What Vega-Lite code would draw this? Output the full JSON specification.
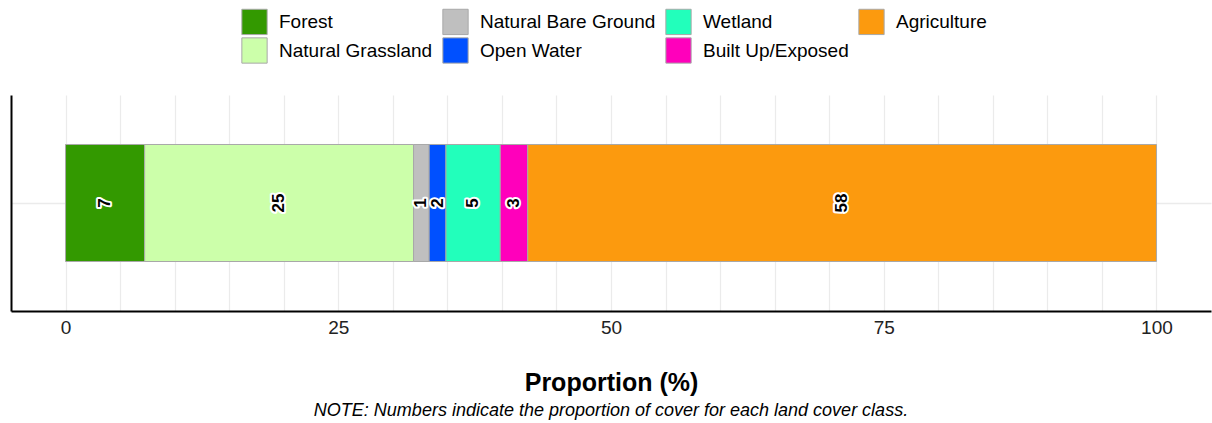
{
  "$schema": "https://vega.github.io/schema/vega-lite/v6.json",
  "width": 1200,
  "height": 216,
  "autosize": {"type": "none"},
  "padding": {"left": 11, "top": 95, "right": 1, "bottom": 112},
  "config": {
    "view": {"stroke": null},
    "font": "Liberation Sans"
  },
  "title": {
    "text": "NOTE: Numbers indicate the proportion of cover for each land cover class.",
    "orient": "bottom",
    "anchor": "middle",
    "fontSize": 18,
    "fontStyle": "italic",
    "fontWeight": "normal",
    "color": "#000000",
    "offset": 7
  },
  "data": {
    "values": [
      {"site": "A", "cls": "Forest", "order": 1, "value": 7.25},
      {"site": "A", "cls": "Natural Grassland", "order": 2, "value": 24.65},
      {"site": "A", "cls": "Natural Bare Ground", "order": 3, "value": 1.43},
      {"site": "A", "cls": "Open Water", "order": 4, "value": 1.54},
      {"site": "A", "cls": "Wetland", "order": 5, "value": 4.98},
      {"site": "A", "cls": "Built Up/Exposed", "order": 6, "value": 2.52},
      {"site": "A", "cls": "Agriculture", "order": 7, "value": 57.63}
    ]
  },
  "transform": [
    {"stack": "value", "groupby": ["site"], "sort": [{"field": "order", "order": "ascending"}], "as": ["x0", "x1"]},
    {"calculate": "(datum.x0 + datum.x1) / 2", "as": "mid"}
  ],
  "encoding": {
    "y": {
      "field": "site",
      "type": "nominal",
      "scale": {"paddingInner": 0, "paddingOuter": 0.423},
      "axis": {
        "title": null,
        "labels": false,
        "ticks": false,
        "grid": true,
        "bandPosition": 0.5,
        "gridColor": "#ebebeb",
        "gridWidth": 1.5,
        "domainColor": "#000000",
        "domainWidth": 2
      }
    }
  },
  "layer": [
    {
      "mark": {"type": "bar", "stroke": "#a8a8a8", "strokeWidth": 1},
      "encoding": {
        "x": {
          "field": "x0",
          "type": "quantitative",
          "scale": {"domain": [-5, 105], "nice": false, "zero": false},
          "axis": {
            "values": [0, 5, 10, 15, 20, 25, 30, 35, 40, 45, 50, 55, 60, 65, 70, 75, 80, 85, 90, 95, 100],
            "labelExpr": "datum.value % 25 === 0 ? datum.label : ''",
            "title": "Proportion (%)",
            "titleFontSize": 25,
            "titleFontWeight": "bold",
            "titleColor": "#000000",
            "titlePadding": 33,
            "labelFontSize": 19,
            "labelColor": "#222222",
            "labelPadding": 7,
            "ticks": false,
            "tickSize": 0,
            "grid": true,
            "gridColor": "#ebebeb",
            "gridWidth": 1.2,
            "domainColor": "#000000",
            "domainWidth": 2
          }
        },
        "x2": {"field": "x1"},
        "color": {
          "field": "cls",
          "type": "nominal",
          "scale": {
            "domain": ["Forest", "Natural Bare Ground", "Wetland", "Agriculture", "Natural Grassland", "Open Water", "Built Up/Exposed"],
            "range": ["#339900", "#bfbfbf", "#22ffbb", "#fc9a0e", "#ccffaa", "#0050ff", "#ff00bb"]
          },
          "legend": {
            "title": null,
            "orient": "none",
            "legendX": 230,
            "legendY": -87,
            "columns": 4,
            "direction": "horizontal",
            "symbolType": "square",
            "symbolSize": 640,
            "symbolStrokeColor": "#a8a8a8",
            "symbolStrokeWidth": 1,
            "symbolOpacity": 1,
            "labelFontSize": 19,
            "labelColor": "#000000",
            "labelOffset": 11,
            "columnPadding": 7,
            "rowPadding": -7,
            "labelLimit": 300
          }
        }
      }
    },
    {
      "mark": {"type": "text", "angle": 270, "fontWeight": "bold", "fontSize": 17, "stroke": "#ffffff", "strokeWidth": 4, "strokeJoin": "round", "fill": "#ffffff", "align": "center", "baseline": "middle"},
      "encoding": {
        "x": {"field": "mid", "type": "quantitative"},
        "text": {"field": "value", "type": "quantitative", "format": ".0f"}
      }
    },
    {
      "mark": {"type": "text", "angle": 270, "fontWeight": "bold", "fontSize": 17, "fill": "#000000", "align": "center", "baseline": "middle"},
      "encoding": {
        "x": {"field": "mid", "type": "quantitative"},
        "text": {"field": "value", "type": "quantitative", "format": ".0f"}
      }
    }
  ]
}
